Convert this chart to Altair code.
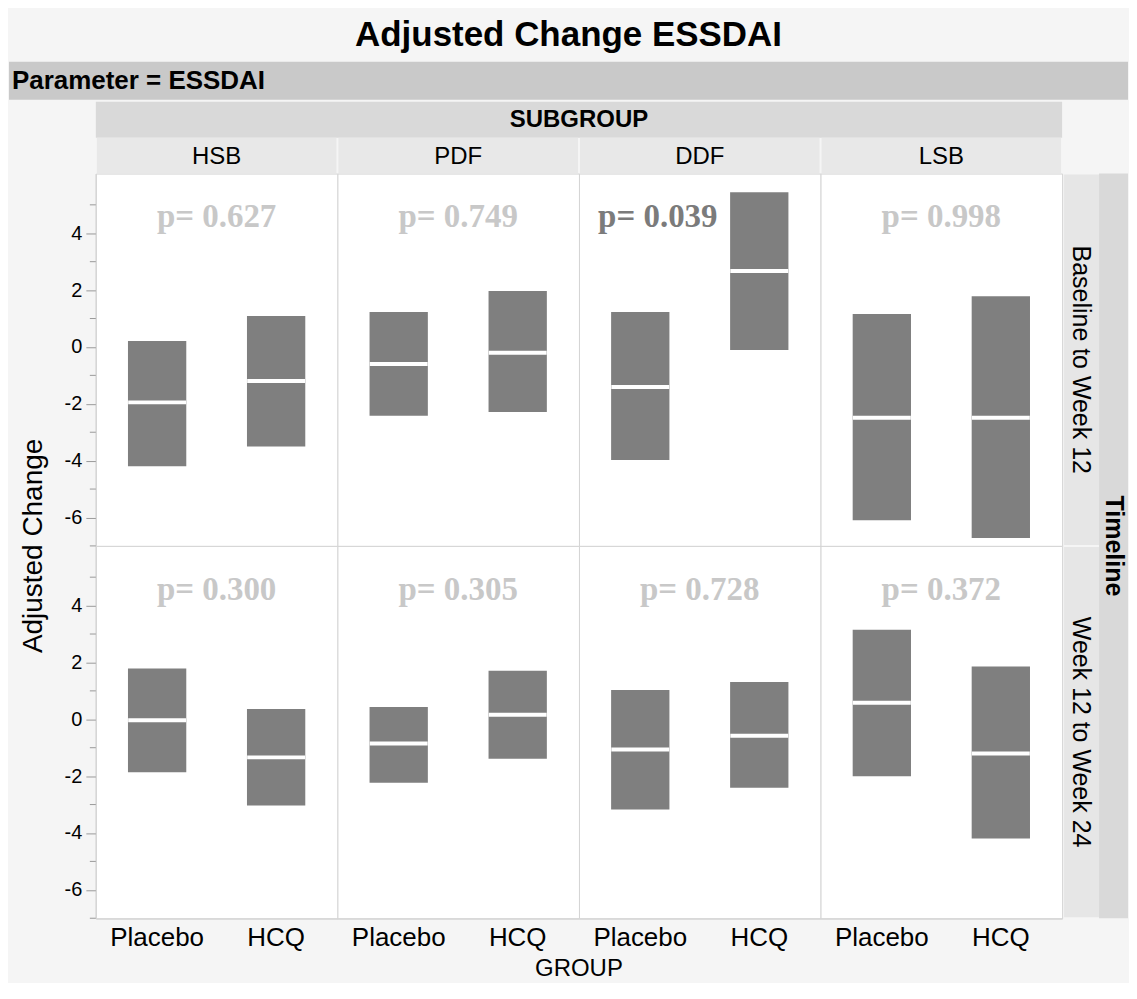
import altair as alt
import pandas as pd

# ---- data ----
subgroups = ["HSB", "PDF", "DDF", "LSB"]
timelines = ["Baseline to Week 12", "Week 12 to Week 24"]
groups = ["Placebo", "HCQ"]

# [subgroup][group]  (Placebo, HCQ)
lower_b12 = [[-4.20, -3.50], [-2.42, -2.29], [-3.98, -0.11], [-6.10, -6.72]]
upper_b12 = [[0.21, 1.09], [1.23, 1.97], [1.23, 5.44], [1.16, 1.78]]
median_b12 = [[-1.95, -1.20], [-0.60, -0.20], [-1.41, 2.67], [-2.49, -2.49]]

lower_w24 = [[-1.86, -3.03], [-2.23, -1.39], [-3.17, -2.41], [-2.00, -4.19]]
upper_w24 = [[1.79, 0.36], [0.43, 1.71], [1.03, 1.31], [3.15, 1.86]]
median_w24 = [[-0.03, -1.34], [-0.85, 0.16], [-1.06, -0.58], [0.58, -1.20]]

p_b12 = [0.627, 0.749, 0.039, 0.998]
p_w24 = [0.300, 0.305, 0.728, 0.372]

major_ticks = [-6, -4, -2, 0, 2, 4]
minor_ticks = [-7, -5, -3, -1, 1, 3, 5]

title_text = "Adjusted Change ESSDAI"
param_text = "Parameter = ESSDAI"
col_title = "SUBGROUP"
row_title = "Timeline"
x_title = "GROUP"
y_title = "Adjusted Change"

# ---- build table ----
lowers = [lower_b12, lower_w24]
uppers = [upper_b12, upper_w24]
medians = [median_b12, median_w24]
pvals = [p_b12, p_w24]

rows = []
for ti, tl in enumerate(timelines):
    for si, sg in enumerate(subgroups):
        for gi, g in enumerate(groups):
            rows.append(dict(kind="bar", Timeline=tl, SUBGROUP=sg, GROUP=g,
                             lo=lowers[ti][si][gi], hi=uppers[ti][si][gi],
                             med=medians[ti][si][gi]))
        p = pvals[ti][si]
        rows.append(dict(kind="p", Timeline=tl, SUBGROUP=sg,
                         plabel=f"p= {p:.3f}", sig="yes" if p < 0.05 else "no"))
        rows.append(dict(kind="cell", Timeline=tl, SUBGROUP=sg))
    for v in minor_ticks:
        rows.append(dict(kind="minor", Timeline=tl, SUBGROUP="HSB", val=v))
df = pd.DataFrame(rows)

W = 242
H = 373
SANS = "Liberation Sans"
SERIF = "Liberation Serif"

yscale = alt.Scale(domain=[-7, 6.1], nice=False, zero=False)
yaxis = alt.Axis(values=major_ticks, title=None, tickSize=10, tickColor="#9a9a9a",
                 domainColor="#9a9a9a", labelFontSize=20, labelFont=SANS,
                 labelColor="black", labelPadding=4, grid=False,
                 labelExpr="'' + datum.value")
xscale = alt.Scale(domain=groups, paddingInner=0.51, paddingOuter=0.27)
xaxis = alt.Axis(title=None, ticks=False, labelFontSize=26, labelFont=SANS,
                 labelColor="black", labelPadding=6, labelAngle=0,
                 domainColor="#9a9a9a", grid=False)

T0, T1 = timelines
top_hsb = f"datum.kind == 'cell' && datum.SUBGROUP == 'HSB' && datum.Timeline == '{T0}'"
top_all = f"datum.kind == 'cell' && datum.Timeline == '{T0}'"
lsb_all = "datum.kind == 'cell' && datum.SUBGROUP == 'LSB'"
top_lsb = f"datum.kind == 'cell' && datum.SUBGROUP == 'LSB' && datum.Timeline == '{T0}'"
bot_pdf = f"datum.kind == 'cell' && datum.SUBGROUP == 'PDF' && datum.Timeline == '{T1}'"

base = alt.Chart()

param_band = base.mark_rect(color="#c9c9c9").encode(
    x=alt.value(-87), x2=alt.value(4 * W + 66), y=alt.value(-112), y2=alt.value(-74)
).transform_filter(top_hsb)
param_lbl = base.mark_text(align="left", baseline="middle", font=SANS, fontSize=26,
                           fontWeight="bold", color="black").encode(
    x=alt.value(-84), y=alt.value(-93), text=alt.value(param_text)
).transform_filter(top_hsb)

sub_band = base.mark_rect(color="#d9d9d9").encode(
    x=alt.value(0), x2=alt.value(4 * W), y=alt.value(-72), y2=alt.value(-36)
).transform_filter(top_hsb)
sub_lbl = base.mark_text(align="center", baseline="middle", font=SANS, fontSize=24,
                         fontWeight="bold", color="black").encode(
    x=alt.value(2 * W), y=alt.value(-54), text=alt.value(col_title)
).transform_filter(top_hsb)

col_band = base.mark_rect(color="#e8e8e8").encode(
    x=alt.value(1), x2=alt.value(W - 1), y=alt.value(-36), y2=alt.value(0)
).transform_filter(top_all)
col_lbl = base.mark_text(align="center", baseline="middle", font=SANS, fontSize=24,
                         color="black").encode(
    x=alt.value(W / 2), y=alt.value(-17), text="SUBGROUP:N"
).transform_filter(top_all)

row_band = base.mark_rect(color="#e6e6e6").encode(
    x=alt.value(W + 2), x2=alt.value(W + 37), y=alt.value(1), y2=alt.value(H - 1)
).transform_filter(lsb_all)
row_lbl = base.mark_text(align="center", baseline="middle", font=SANS, fontSize=25,
                         angle=90, color="black").encode(
    x=alt.value(W + 19), y=alt.value(H / 2), text="Timeline:N"
).transform_filter(lsb_all)

tl_band = base.mark_rect(color="#d9d9d9").encode(
    x=alt.value(W + 37), x2=alt.value(W + 66), y=alt.value(0), y2=alt.value(2 * H)
).transform_filter(top_lsb)
tl_lbl = base.mark_text(align="center", baseline="middle", font=SANS, fontSize=25,
                        fontWeight="bold", angle=90, color="black").encode(
    x=alt.value(W + 52), y=alt.value(H), text=alt.value(row_title)
).transform_filter(top_lsb)

y_lbl = base.mark_text(align="center", baseline="middle", font=SANS, fontSize=28,
                       angle=270, color="black").encode(
    x=alt.value(-62), y=alt.value(H), text=alt.value(y_title)
).transform_filter(top_hsb)
x_lbl = base.mark_text(align="center", baseline="middle", font=SANS, fontSize=24,
                       color="black").encode(
    x=alt.value(W), y=alt.value(H + 51), text=alt.value(x_title)
).transform_filter(bot_pdf)

minor = base.mark_rule(color="#9a9a9a", strokeWidth=1).encode(
    y=alt.Y("val:Q", scale=yscale, axis=yaxis), x=alt.value(-6), x2=alt.value(0)
).transform_filter("datum.kind == 'minor'")

bars = base.mark_bar(color="#7f7f7f").encode(
    x=alt.X("GROUP:N", scale=xscale, axis=xaxis, sort=groups),
    y=alt.Y("lo:Q", scale=yscale, axis=yaxis),
    y2="hi:Q",
).transform_filter("datum.kind == 'bar'")

meds = base.mark_tick(color="white", opacity=1, thickness=4, size=58,
                      orient="horizontal").encode(
    x=alt.X("GROUP:N", scale=xscale, axis=xaxis, sort=groups),
    y=alt.Y("med:Q", scale=yscale, axis=yaxis),
).transform_filter("datum.kind == 'bar'")

p_light = base.mark_text(align="center", baseline="middle", font=SERIF, fontSize=33,
                         fontWeight="bold", color="#c8c8c8").encode(
    x=alt.value(W / 2), y=alt.value(44), text="plabel:N"
).transform_filter("datum.kind == 'p' && datum.sig == 'no'")
p_dark = base.mark_text(align="center", baseline="middle", font=SERIF, fontSize=33,
                        fontWeight="bold", color="#7b7b7b", dx=-42).encode(
    x=alt.value(W / 2), y=alt.value(44), text="plabel:N"
).transform_filter("datum.kind == 'p' && datum.sig == 'yes'")

layered = alt.layer(
    param_band, param_lbl, sub_band, sub_lbl, col_band, col_lbl,
    row_band, row_lbl, tl_band, tl_lbl, y_lbl, x_lbl,
    minor, bars, meds, p_light, p_dark,
    data=df,
).properties(width=W, height=H)

chart = layered.facet(
    row=alt.Row("Timeline:N", header=None, sort=timelines),
    column=alt.Column("SUBGROUP:N", header=None, sort=subgroups),
    spacing=0,
    bounds="flush",
).properties(
    title=alt.TitleParams(title_text, fontSize=35, fontWeight="bold", font=SANS,
                          anchor="middle", color="black", offset=8),
    padding={"left": 0, "top": 9, "right": 0, "bottom": 0},
).configure(
    background="#f5f5f5",
).configure_view(
    fill="white", stroke="#d4d4d4", strokeWidth=1,
)

chart.save("out.html", embed_options={"renderer": "svg", "actions": False})
